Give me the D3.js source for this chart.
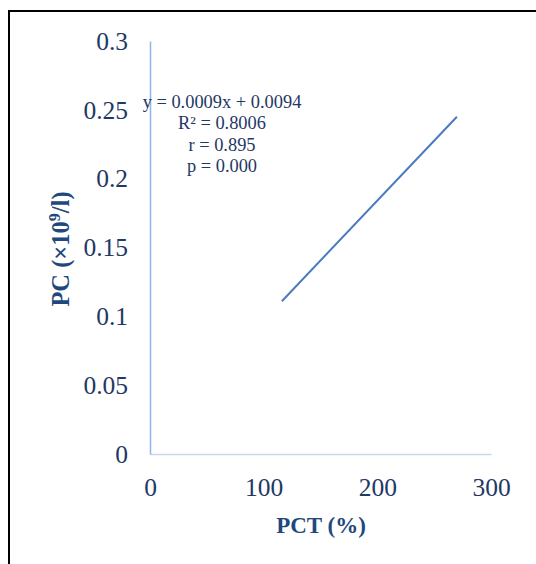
<!DOCTYPE html>
<html lang="en">
    <head>
        <meta charset="utf-8">
        <title>PC vs PCT</title>
        <script src="https://d3js.org/d3.v7.min.js"></script>
        <style type="text/css">
            body { margin: 0; background: #fff; }
            text { font-family: "Liberation Serif", "Times New Roman", serif; }
        </style>
    </head>
    <body>
        <script type="text/javascript">

            const w = 536;
            const h = 564;

            // data
            const xTicks = [0, 100, 200, 300];
            const yTicks = [0, 0.05, 0.1, 0.15, 0.2, 0.25, 0.3];
            const yTickLabels = ["0", "0.05", "0.1", "0.15", "0.2", "0.25", "0.3"];
            const trendX = [116, 270];
            const trendY = [0.111, 0.245];
            const annotation = ["y = 0.0009x + 0.0094", "R² = 0.8006", "r = 0.895", "p = 0.000"];

            const points = trendX.map((x, i) => ({x: x, y: trendY[i]}));

            const xScale = d3.scaleLinear()
                             .domain([0, 300])
                             .range([150, 491]);

            const yScale = d3.scaleLinear()
                             .domain([0, 0.3])
                             .range([454, 41]);

            const svg = d3.select("body")
                          .append("svg")
                          .attr("width", w)
                          .attr("height", h);

            // frame (top and left edges only visible)
            svg.append("path")
               .attr("d", "M9,564 V11 H536")
               .attr("fill", "none")
               .attr("stroke", "#000")
               .attr("stroke-width", 2);

            // axes
            const bottomAxis = d3.axisBottom(xScale)
                                 .tickValues(xTicks)
                                 .tickSize(0)
                                 .tickPadding(24);

            const gx = svg.append("g")
                          .attr("transform", "translate(0," + yScale(0) + ")")
                          .call(bottomAxis);
            gx.select(".domain").attr("stroke", "#c5d8ef").attr("stroke-width", 1.5);
            gx.selectAll("text")
              .attr("fill", "#1f3864")
              .style("font-size", "25.5px");

            const leftAxis = d3.axisLeft(yScale)
                               .tickValues(yTicks)
                               .tickFormat((d, i) => yTickLabels[i])
                               .tickSize(0)
                               .tickPadding(22);

            const gy = svg.append("g")
                          .attr("transform", "translate(" + xScale(0) + ",0)")
                          .call(leftAxis);
            gy.select(".domain").attr("stroke", "#8fb6e6").attr("stroke-width", 1.5);
            gy.selectAll("text")
              .attr("fill", "#1f3864")
              .style("font-size", "25.5px");

            // axis titles
            svg.append("text")
               .attr("x", 321)
               .attr("y", 533)
               .attr("text-anchor", "middle")
               .attr("fill", "#1f497d")
               .style("font-size", "23px")
               .style("font-weight", "bold")
               .text("PCT (%)");

            const yTitle = svg.append("text")
               .attr("transform", "translate(69,249) rotate(-90)")
               .attr("text-anchor", "middle")
               .attr("fill", "#1f497d")
               .style("font-size", "24.5px")
               .style("font-weight", "bold");
            yTitle.append("tspan").text("PC (×10");
            yTitle.append("tspan").attr("dy", -9).style("font-size", "16px").text("9");
            yTitle.append("tspan").attr("dy", 9).text("/l)");

            // trendline
            const line = d3.line()
                           .x(d => xScale(d.x))
                           .y(d => yScale(d.y));

            svg.append("path")
               .datum(points)
               .attr("d", line)
               .attr("fill", "none")
               .attr("stroke", "#4a7bc0")
               .attr("stroke-width", 2);

            // equation label
            svg.append("g")
               .selectAll("text")
               .data(annotation)
               .enter()
               .append("text")
               .attr("x", 222)
               .attr("y", (d, i) => 108 + i * 21.3)
               .attr("text-anchor", "middle")
               .attr("fill", "#1f3864")
               .style("font-size", "18.4px")
               .text(d => d);

        </script>
    </body>
</html>
